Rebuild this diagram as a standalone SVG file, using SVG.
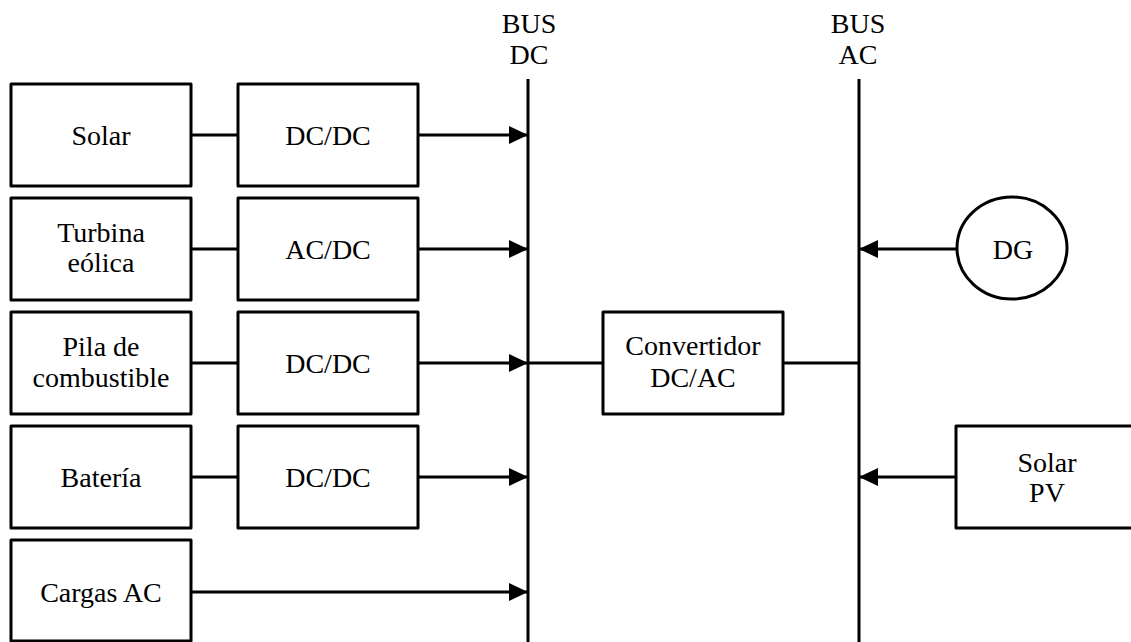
<svg xmlns="http://www.w3.org/2000/svg" width="1131" height="642" viewBox="0 0 1131 642">
  <style>
    .box { fill: #ffffff; stroke: #000000; stroke-width: 3; stroke-linejoin: round; }
    .wire { fill: none; stroke: #000000; stroke-width: 3; }
    .lbl { font-family: "Liberation Serif", "Times New Roman", serif; font-size: 28px; fill: #000000; text-anchor: middle; }
  </style>
  <defs>
    <marker id="arrow" markerUnits="userSpaceOnUse" markerWidth="20" markerHeight="18" refX="19" refY="9" orient="auto">
      <path d="M0,0 L19,9 L0,18 Z" fill="#000000"/>
    </marker>
  </defs>
  <rect width="1131" height="642" fill="#ffffff"/>

  <!-- bus bars with their labels -->
  <g id="bus-dc">
    <line class="wire" x1="528" y1="79" x2="528" y2="642"/>
    <text class="lbl" x="529" y="33">BUS</text>
    <text class="lbl" x="529" y="64">DC</text>
  </g>
  <g id="bus-ac">
    <line class="wire" x1="859" y1="79" x2="859" y2="642"/>
    <text class="lbl" x="858" y="33">BUS</text>
    <text class="lbl" x="858" y="64">AC</text>
  </g>

  <!-- connectors -->
  <g id="connectors">
    <line class="wire" x1="191" y1="135" x2="238" y2="135"/>
    <line class="wire" x1="418" y1="135" x2="528" y2="135" marker-end="url(#arrow)"/>
    <line class="wire" x1="191" y1="249" x2="238" y2="249"/>
    <line class="wire" x1="418" y1="249" x2="528" y2="249" marker-end="url(#arrow)"/>
    <line class="wire" x1="191" y1="363" x2="238" y2="363"/>
    <line class="wire" x1="418" y1="363" x2="528" y2="363" marker-end="url(#arrow)"/>
    <line class="wire" x1="191" y1="477" x2="238" y2="477"/>
    <line class="wire" x1="418" y1="477" x2="528" y2="477" marker-end="url(#arrow)"/>
    <line class="wire" x1="191" y1="592" x2="528" y2="592" marker-end="url(#arrow)"/>
    <line class="wire" x1="528" y1="363" x2="603" y2="363"/>
    <line class="wire" x1="783" y1="363" x2="859" y2="363"/>
    <line class="wire" x1="957" y1="249" x2="859" y2="249" marker-end="url(#arrow)"/>
    <line class="wire" x1="956" y1="477" x2="859" y2="477" marker-end="url(#arrow)"/>
  </g>

  <!-- sources on the DC side -->
  <g id="solar">
    <rect class="box" x="11" y="84" width="180" height="102"/>
    <text class="lbl" x="101" y="145">Solar</text>
  </g>
  <g id="dcdc-solar">
    <rect class="box" x="238" y="84" width="180" height="102"/>
    <text class="lbl" x="328" y="145">DC/DC</text>
  </g>
  <g id="turbina">
    <rect class="box" x="11" y="198" width="180" height="102"/>
    <text class="lbl" x="101" y="242">Turbina</text>
    <text class="lbl" x="101" y="272">eólica</text>
  </g>
  <g id="acdc-turbina">
    <rect class="box" x="238" y="198" width="180" height="102"/>
    <text class="lbl" x="328" y="259">AC/DC</text>
  </g>
  <g id="pila">
    <rect class="box" x="11" y="312" width="180" height="102"/>
    <text class="lbl" x="101" y="356">Pila de</text>
    <text class="lbl" x="101" y="387">combustible</text>
  </g>
  <g id="dcdc-pila">
    <rect class="box" x="238" y="312" width="180" height="102"/>
    <text class="lbl" x="328" y="373">DC/DC</text>
  </g>
  <g id="bateria">
    <rect class="box" x="11" y="426" width="180" height="102"/>
    <text class="lbl" x="101" y="487">Batería</text>
  </g>
  <g id="dcdc-bateria">
    <rect class="box" x="238" y="426" width="180" height="102"/>
    <text class="lbl" x="328" y="487">DC/DC</text>
  </g>
  <g id="cargas">
    <rect class="box" x="11" y="540" width="180" height="101"/>
    <text class="lbl" x="101" y="602">Cargas AC</text>
  </g>

  <!-- inverter between the two buses -->
  <g id="convertidor">
    <rect class="box" x="603" y="312" width="180" height="102"/>
    <text class="lbl" x="693" y="355">Convertidor</text>
    <text class="lbl" x="693" y="387">DC/AC</text>
  </g>

  <!-- sources on the AC side -->
  <g id="dg">
    <ellipse class="box" cx="1012" cy="248" rx="55" ry="51"/>
    <text class="lbl" x="1013" y="259">DG</text>
  </g>
  <g id="solar-pv">
    <rect class="box" x="956" y="426" width="180" height="102"/>
    <text class="lbl" x="1047" y="472">Solar</text>
    <text class="lbl" x="1047" y="502">PV</text>
  </g>
</svg>
